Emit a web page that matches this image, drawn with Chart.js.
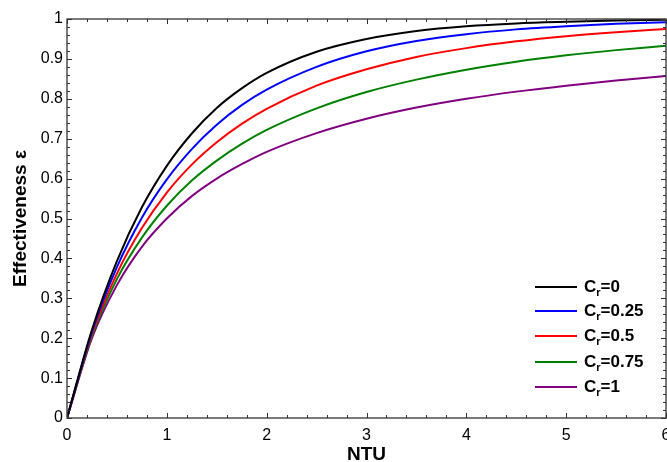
<!DOCTYPE html>
<html>
<head>
<meta charset="utf-8">
<script src="https://cdn.jsdelivr.net/npm/chart.js@4/dist/chart.umd.min.js"></script>
<style>
  html, body { margin: 0; padding: 0; background: #fff; overflow: hidden; }
  #wrap { position: relative; width: 680px; height: 462px; }
  #legend { position: absolute; left: 0; top: 0; font-family: "Liberation Sans", Arial, sans-serif; font-weight: bold; font-size: 17px; color: #000; }
  .item { position: absolute; height: 20px; white-space: nowrap; }
  .swatch { position: absolute; width: 42px; height: 2px; }
  .txt { position: absolute; line-height: 20px; }
  .txt sub { font-size: 11px; vertical-align: -4px; line-height: 0; }
</style>
</head>
<body>
<div id="wrap">
  <canvas id="c"></canvas>
  <div id="legend"></div>
</div>
<script>
// ---- data ----
const ntu   = [0, 0.25, 0.5, 0.75, 1, 1.25, 1.5, 1.75, 2, 2.5, 3, 3.5, 4, 4.5, 5, 5.5, 6];
const cr0   = [0, 0.221, 0.393, 0.528, 0.632, 0.713, 0.777, 0.826, 0.865, 0.918, 0.950, 0.970, 0.982, 0.989, 0.993, 0.996, 0.998];
const cr025 = [0, 0.216, 0.378, 0.502, 0.598, 0.674, 0.735, 0.784, 0.823, 0.880, 0.919, 0.945, 0.962, 0.974, 0.982, 0.988, 0.992];
const cr05  = [0, 0.210, 0.362, 0.476, 0.565, 0.635, 0.691, 0.737, 0.775, 0.833, 0.874, 0.905, 0.927, 0.944, 0.957, 0.967, 0.975];
const cr075 = [0, 0.205, 0.348, 0.452, 0.532, 0.595, 0.645, 0.687, 0.722, 0.776, 0.817, 0.848, 0.873, 0.893, 0.909, 0.922, 0.933];
const cr1   = [0, 0.200, 0.333, 0.429, 0.500, 0.556, 0.600, 0.636, 0.667, 0.714, 0.750, 0.778, 0.800, 0.818, 0.833, 0.846, 0.857];
const crLabels = ["0", "0.25", "0.5", "0.75", "1"];
const seriesList = [cr0, cr025, cr05, cr075, cr1];
const colors = ["#000000", "#0000ff", "#ff0000", "#008000", "#800080"];
const xTickLabels = ["0", "1", "2", "3", "4", "5", "6"];
const yTickLabels = ["0", "0.1", "0.2", "0.3", "0.4", "0.5", "0.6", "0.7", "0.8", "0.9", "1"];

const FONT = '"Liberation Sans", Arial, sans-serif';

const datasets = seriesList.map((s, i) => ({
  label: "Cr=" + crLabels[i],
  data: ntu.map((x, j) => ({ x: x, y: s[j] })),
  borderColor: colors[i],
  backgroundColor: colors[i],
  borderWidth: 2,
  pointRadius: 0,
  cubicInterpolationMode: 'monotone',
  fill: false
}));

// frame with inward major/minor ticks on all four sides
const framePlugin = {
  id: 'frame',
  afterDraw(chart) {
    const ctx = chart.ctx;
    const a = chart.chartArea;
    const xs = chart.scales.x, ys = chart.scales.y;
    ctx.save();
    ctx.strokeStyle = '#333';
    ctx.lineWidth = 1.3;
    ctx.strokeRect(a.left, a.top, a.right - a.left, a.bottom - a.top);
    ctx.lineWidth = 1;
    ctx.beginPath();
    for (let k = 0; k <= 30; k++) {
      const v = k * 0.2;
      const px = Math.round(xs.getPixelForValue(v)) + 0.5;
      const len = (k % 5 === 0) ? 5 : 3;
      ctx.moveTo(px, a.bottom); ctx.lineTo(px, a.bottom - len);
      ctx.moveTo(px, a.top); ctx.lineTo(px, a.top + len);
    }
    for (let k = 0; k <= 50; k++) {
      const v = k * 0.02;
      const py = Math.round(ys.getPixelForValue(v)) + 0.5;
      const len = (k % 5 === 0) ? 5 : 3;
      ctx.moveTo(a.left, py); ctx.lineTo(a.left + len, py);
      ctx.moveTo(a.right, py); ctx.lineTo(a.right - len, py);
    }
    ctx.stroke();
    ctx.restore();
  }
};

const chart = new Chart(document.getElementById('c'), {
  type: 'line',
  data: { datasets: datasets },
  options: {
    responsive: true,
    maintainAspectRatio: false,
    animation: false,
    layout: { padding: { top: 19, right: 14, left: 0, bottom: 0 } },
    plugins: { legend: { display: false }, tooltip: { enabled: false } },
    scales: {
      x: {
        type: 'linear', min: 0, max: 6,
        grid: { display: false, drawTicks: false },
        border: { display: false },
        ticks: {
          stepSize: 1, padding: 8, color: '#000', maxRotation: 0,
          font: { family: FONT, size: 16 },
          callback: (v) => xTickLabels[Math.round(v)]
        },
        title: { display: true, text: 'NTU', color: '#000',
          font: { family: FONT, size: 19, weight: 'bold', lineHeight: 0.7 },
          padding: { top: 0, bottom: 1 } },
        afterFit(scale) { scale.height = 44; }
      },
      y: {
        type: 'linear', min: 0, max: 1,
        grid: { display: false, drawTicks: false },
        border: { display: false },
        ticks: {
          stepSize: 0.1, padding: 4, color: '#000',
          font: { family: FONT, size: 16 },
          callback: (v) => yTickLabels[Math.round(v * 10)]
        },
        title: { display: true, text: 'Effectiveness ε', color: '#000',
          font: { family: FONT, size: 19, weight: 'bold', lineHeight: 1 },
          padding: { top: 11, bottom: 0 } },
        afterFit(scale) { scale.width = 67; }
      }
    }
  },
  plugins: [framePlugin]
});

// legend (HTML text with subscript)
const legendYs = [287, 311, 336, 362, 387];
const leg = document.getElementById('legend');
crLabels.forEach((lab, i) => {
  const it = document.createElement('div');
  it.className = 'item';
  it.style.left = '535px';
  it.style.top = (legendYs[i] - 10) + 'px';
  const sw = document.createElement('div');
  sw.className = 'swatch';
  sw.style.background = colors[i];
  sw.style.left = '0px';
  sw.style.top = '9px';
  const tx = document.createElement('div');
  tx.className = 'txt';
  tx.style.left = '49px';
  tx.style.top = '0px';
  tx.innerHTML = 'C<sub>r</sub>=' + lab;
  it.appendChild(sw); it.appendChild(tx);
  leg.appendChild(it);
});
</script>
</body>
</html>
